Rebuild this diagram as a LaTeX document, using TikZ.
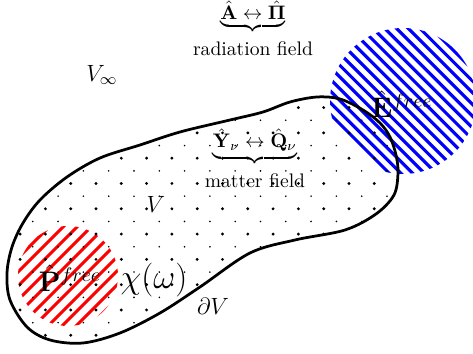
\documentclass[tikz,border=0pt]{standalone}
\usepackage{amsmath}
\usepackage{amssymb}
\usetikzlibrary{positioning}
\definecolor{hatchblue}{RGB}{0,0,255}
\definecolor{hatchred}{RGB}{255,0,0}

\begin{document}
\begin{tikzpicture}[x=0.51pt,y=-0.51pt,
    hatch/.style={line width=1.6pt},
    border/.style={draw=black, line width=1.4pt}]
  \useasboundingbox (0,0) rectangle (473,354);
  \def\blob{plot[smooth cycle, tension=0.55] coordinates {
    (7,273) (12,247) (23,223) (40,200) (67,177) (100,158) (140,145)
    (180,132) (230,120) (263,112) (290,102) (317,97) (340,99) (363,110)
    (380,123) (390,137) (396,155) (398,173) (394,195) (376,214) (345,230)
    (295,240) (250,253) (200,287) (160,313) (120,333) (83,343) (50,340)
    (27,327) (10,300)}}
  % Free field E (blue hatch)
  \begin{scope}
    \clip (403,101) circle (73);
    \foreach \k in {0,...,16}
      \draw[hatchblue, hatch] ({216+11.7*\k},0) -- ({466+11.7*\k},250);
  \end{scope}
  % Free field P (red hatch)
  \begin{scope}
    \clip (68,276) circle (50);
    \foreach \k in {0,...,10}
      \draw[hatchred, hatch] ({76+14*\k},200) -- ({-74+14*\k},350);
  \end{scope}
  % Volume V (dots)
  \begin{scope}
    \clip \blob;
    \foreach \i in {-4,...,13}
      \foreach \j in {-4,...,7} {
        \fill ({96+25.3*\i},{183.5+25.3*\j}) circle (1.6);
        \fill ({83.4+25.3*\i},{196.2+25.3*\j}) circle (0.9);
      }
  \end{scope}
  \draw[border] \blob;
  % Labels
  \node (radform) at (253,17) {$\underbrace{\hat{\mathbf{A}}\leftrightarrow\hat{\mathbf{\Pi}}}$};
  \node[below=-3pt of radform] (radlabel) {radiation field};
  \node (matform) at (255,147) {$\underbrace{\hat{\mathbf{Y}}_\nu\leftrightarrow\hat{\mathbf{Q}}_\nu}$};
  \node[below=-3pt of matform] (matlabel) {matter field};
  \node (vinf) at (102,75) {\large $V_\infty$};
  \node (vin) at (156,204) {\large $V$};
  \node (dv) at (213,306) {\large $\partial V$};
  \node (efree) at (402,104) {\Large $\hat{\mathbf{E}}^{free}$};
  \node (pfree) at (70,278) {\Large $\hat{\mathbf{P}}^{free}$};
  \node (chi) at (154,280) {\LARGE $\chi(\omega)$};
\end{tikzpicture}
\end{document}
